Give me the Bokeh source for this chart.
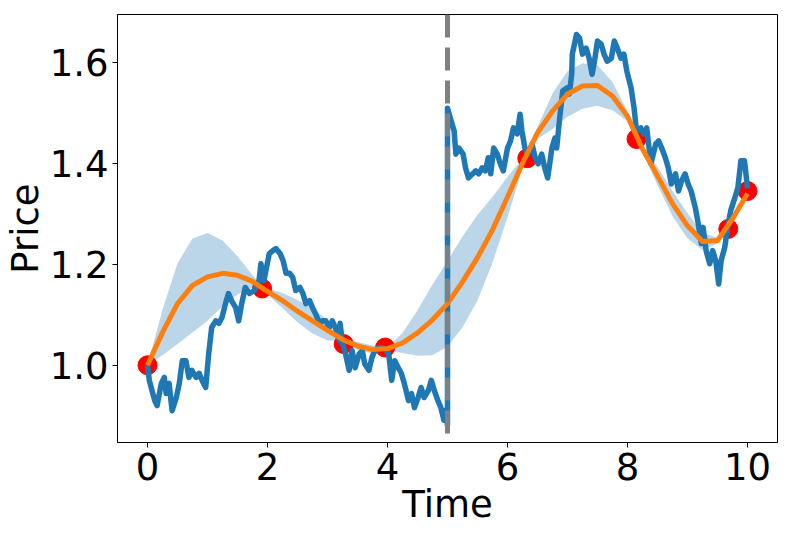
from bokeh.plotting import figure
from bokeh.models import Range1d, FixedTicker, Span, NumeralTickFormatter
from bokeh.embed import file_html
from bokeh.resources import INLINE

# ---- data ----
path_time = [0.00, 0.03, 0.12, 0.16, 0.23, 0.28, 0.31, 0.36, 0.41, 0.48, 0.53, 0.58, 0.64, 0.69, 0.74, 0.81,
             0.86, 0.91, 0.97, 1.02, 1.07, 1.14, 1.19, 1.24, 1.30, 1.35, 1.40, 1.47, 1.52, 1.57, 1.63, 1.70,
             1.78, 1.86, 1.89, 1.94, 2.03, 2.09, 2.14, 2.21, 2.26, 2.31, 2.37, 2.42, 2.47, 2.54, 2.59, 2.64,
             2.70, 2.75, 2.80, 2.87, 2.92, 2.97, 3.03, 3.08, 3.13, 3.20, 3.21, 3.25, 3.30, 3.36, 3.41, 3.46,
             3.53, 3.58, 3.62, 3.69, 3.74, 3.79, 3.86, 3.90, 3.95, 4.02, 4.07, 4.12, 4.18, 4.23, 4.28, 4.35,
             4.40, 4.45, 4.51, 4.56, 4.61, 4.68, 4.73, 4.78, 4.84, 4.89, 4.94, 4.97, 5.00, 5.00, 5.06, 5.11,
             5.14, 5.19, 5.26, 5.30, 5.35, 5.42, 5.47, 5.52, 5.58, 5.63, 5.68, 5.72, 5.77, 5.83, 5.88, 5.93,
             6.00, 6.05, 6.10, 6.16, 6.21, 6.24, 6.29, 6.34, 6.41, 6.46, 6.51, 6.57, 6.62, 6.67, 6.74, 6.79,
             6.82, 6.87, 6.92, 6.99, 7.03, 7.07, 7.08, 7.15, 7.20, 7.25, 7.31, 7.36, 7.41, 7.45, 7.50, 7.56,
             7.61, 7.66, 7.73, 7.78, 7.83, 7.89, 7.94, 7.99, 8.06, 8.11, 8.15, 8.22, 8.27, 8.32, 8.39, 8.43,
             8.47, 8.52, 8.57, 8.63, 8.68, 8.73, 8.80, 8.85, 8.90, 8.96, 9.01, 9.06, 9.13, 9.18, 9.23, 9.26,
             9.31, 9.37, 9.42, 9.47, 9.52, 9.56, 9.62, 9.67, 9.72, 9.79, 9.84, 9.89, 9.95, 10.00]
path_price = [1.000, 0.970, 0.930, 0.920, 0.964, 0.976, 0.944, 0.964, 0.910, 0.936, 0.964, 1.009, 1.009, 0.976,
              0.990, 0.976, 0.984, 0.970, 0.956, 1.023, 1.075, 1.088, 1.083, 1.094, 1.122, 1.142, 1.128, 1.114,
              1.088, 1.122, 1.154, 1.142, 1.148, 1.168, 1.201, 1.168, 1.221, 1.227, 1.231, 1.221, 1.207, 1.182,
              1.182, 1.174, 1.148, 1.154, 1.142, 1.122, 1.128, 1.114, 1.102, 1.083, 1.088, 1.088, 1.075, 1.088,
              1.075, 1.049, 1.083, 1.043, 1.023, 0.990, 1.029, 0.995, 1.023, 1.029, 1.003, 0.990, 1.015, 1.029,
              1.035, 1.035, 1.033, 1.023, 0.970, 1.009, 0.995, 0.984, 0.964, 0.930, 0.944, 0.916, 0.936, 0.956,
              0.936, 0.950, 0.970, 0.950, 0.930, 0.916, 0.891, 0.911, 0.881, 1.509, 1.484, 1.464, 1.418, 1.430,
              1.418, 1.391, 1.371, 1.379, 1.385, 1.379, 1.391, 1.385, 1.411, 1.379, 1.430, 1.418, 1.399, 1.385,
              1.430, 1.444, 1.470, 1.458, 1.497, 1.464, 1.430, 1.418, 1.438, 1.411, 1.399, 1.418, 1.391, 1.371,
              1.430, 1.450, 1.430, 1.490, 1.543, 1.549, 1.537, 1.576, 1.616, 1.655, 1.648, 1.616, 1.628, 1.608,
              1.576, 1.602, 1.642, 1.636, 1.616, 1.602, 1.608, 1.642, 1.628, 1.608, 1.616, 1.582, 1.549, 1.509,
              1.464, 1.470, 1.458, 1.470, 1.399, 1.418, 1.438, 1.444, 1.430, 1.411, 1.391, 1.359, 1.379, 1.345,
              1.365, 1.379, 1.359, 1.345, 1.312, 1.280, 1.241, 1.273, 1.227, 1.201, 1.227, 1.207, 1.161, 1.207,
              1.233, 1.273, 1.306, 1.332, 1.352, 1.405, 1.405, 1.350]

obs_time = [0.00, 1.91, 3.27, 3.96, 6.33, 8.15, 9.68, 10.00]
obs_price = [1.000, 1.152, 1.042, 1.035, 1.410, 1.448, 1.270, 1.345]

fit_time = [0.00, 0.25, 0.50, 0.75, 1.00, 1.25, 1.50, 1.75, 2.00, 2.25, 2.50, 2.75, 3.00, 3.25,
            3.50, 3.75, 4.00, 4.25, 4.50, 4.75, 5.00, 5.25, 5.50, 5.75, 6.00, 6.25, 6.50, 6.75,
            7.00, 7.25, 7.50, 7.75, 8.00, 8.25, 8.50, 8.75, 9.00, 9.25, 9.50, 9.75, 10.00]
fit_mean = [1.000, 1.065, 1.122, 1.158, 1.175, 1.182, 1.178, 1.166, 1.146, 1.128, 1.107, 1.088, 1.069,
            1.051, 1.038, 1.031, 1.033, 1.044, 1.064, 1.090, 1.122, 1.165, 1.213, 1.268, 1.333, 1.400,
            1.460, 1.503, 1.537, 1.553, 1.554, 1.533, 1.493, 1.428, 1.375, 1.320, 1.276, 1.245, 1.247,
            1.290, 1.340]
fit_band = [0.000, 0.045, 0.080, 0.093, 0.087, 0.065, 0.038, 0.012, 0.006, 0.015, 0.022, 0.025, 0.020,
            0.002, 0.008, 0.008, 0.002, 0.020, 0.045, 0.070, 0.085, 0.090, 0.085, 0.065, 0.040, 0.010,
            0.012, 0.035, 0.045, 0.045, 0.040, 0.028, 0.010, 0.006, 0.018, 0.025, 0.025, 0.017, 0.006,
            0.002, 0.000]

split_time = 5.0
x_ticks = [0, 2, 4, 6, 8, 10]
y_ticks = [1.0, 1.2, 1.4, 1.6]

band_low = [m - b for m, b in zip(fit_mean, fit_band)]
band_high = [m + b for m, b in zip(fit_mean, fit_band)]

FONT = "DejaVu Sans"

p = figure(width=794, height=532, output_backend="svg", toolbar_location=None,
           x_range=Range1d(-0.5, 10.5), y_range=Range1d(0.847, 1.6945),
           min_border_left=110, min_border_right=17, min_border_top=14, min_border_bottom=90)

p.varea(x=fit_time, y1=band_low, y2=band_high, fill_color="#1f77b4", fill_alpha=0.3)
p.scatter(obs_time, obs_price, size=19, color="red")
p.line(path_time, path_price, line_color="#1f77b4", line_width=5.5, line_join="round")
p.line(fit_time, fit_mean, line_color="#ff7f0e", line_width=5, line_join="round")
p.add_layout(Span(location=split_time, dimension="height", line_color="gray",
                  line_width=5, line_dash="23 10"))

p.grid.visible = False
p.outline_line_color = "black"
p.outline_line_width = 1
p.xaxis.ticker = FixedTicker(ticks=x_ticks)
p.yaxis.ticker = FixedTicker(ticks=y_ticks)
p.yaxis.formatter = NumeralTickFormatter(format="0.0")
for ax in (p.xaxis[0], p.yaxis[0]):
    ax.minor_tick_line_color = None
    ax.major_tick_out = 5
    ax.major_tick_in = 0
    ax.major_tick_line_color = "black"
    ax.axis_line_color = "black"
    ax.major_label_text_font = FONT
    ax.major_label_text_font_size = "37px"
    ax.major_label_text_color = "black"
    ax.axis_label_text_font = FONT
    ax.axis_label_text_font_size = "37px"
    ax.axis_label_text_font_style = "normal"
    ax.axis_label_text_color = "black"
p.xaxis.axis_label = "Time"
p.yaxis.axis_label = "Price"
p.xaxis.major_label_standoff = 5
p.yaxis.major_label_standoff = 4
p.xaxis.axis_label_standoff = 0
p.yaxis.axis_label_standoff = 0

open("out.html", "w").write(file_html(p, INLINE))
